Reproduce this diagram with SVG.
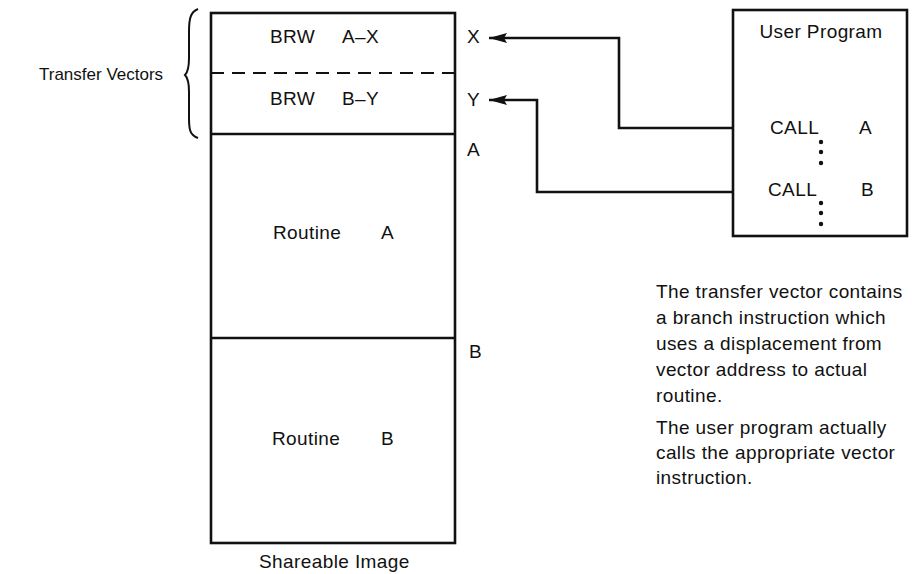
<svg xmlns="http://www.w3.org/2000/svg" width="912" height="574" viewBox="0 0 912 574">
<style>
text{font-family:"Liberation Sans",Arial,sans-serif;font-size:19px;letter-spacing:0.4px;fill:#111}
.box{fill:none;stroke:#111;stroke-width:2.6}
.ln{fill:none;stroke:#111;stroke-width:2.6}
.con{fill:none;stroke:#111;stroke-width:2.6}
</style>
<defs>
<marker id="ah" markerWidth="18" markerHeight="10" refX="18" refY="5" orient="auto" markerUnits="userSpaceOnUse">
<path d="M0,0 L18,5 L0,10 L3,5 Z" fill="#111"/>
</marker>
</defs>
<rect width="912" height="574" fill="#fff"/>
<g id="shareable-image">
<rect class="box" x="211" y="13" width="244" height="530"/>
<line x1="211" y1="73" x2="455" y2="73" stroke="#111" stroke-width="2" stroke-dasharray="13,8"/>
<line class="ln" x1="211" y1="134" x2="455" y2="134"/>
<line class="ln" x1="211" y1="338" x2="455" y2="338"/>
<text x="270" y="43">BRW</text><text x="342" y="43">A–X</text>
<text x="270" y="105">BRW</text><text x="342" y="105">B–Y</text>
<text x="273" y="239">Routine</text><text x="381" y="239">A</text>
<text x="272" y="445">Routine</text><text x="381" y="445">B</text>
<text x="259" y="568">Shareable Image</text>
</g>
<g id="transfer-vectors">
<text x="39" y="80" style="font-size:17px;letter-spacing:0">Transfer Vectors</text>
<path d="M198,9 C190,12 189,20 189,32 L189,58 C189,67 188,72 185,75 C188,78 189,83 189,92 L189,118 C189,130 190,135 198,138" fill="none" stroke="#111" stroke-width="2"/>
</g>
<g id="addresses">
<text x="467" y="43">X</text>
<text x="467" y="106">Y</text>
<text x="467" y="156">A</text>
<text x="469" y="358">B</text>
</g>
<g id="user-program">
<rect class="box" x="733" y="10" width="174" height="226"/>
<text x="821" y="38" text-anchor="middle">User Program</text>
<text x="770" y="134">CALL</text><text x="859" y="134">A</text>
<text x="768" y="196">CALL</text><text x="861" y="196">B</text>
<g fill="#111">
<circle cx="821" cy="142" r="2.2"/><circle cx="821" cy="152" r="2.2"/><circle cx="821" cy="163" r="2.2"/>
<circle cx="821" cy="203" r="2.2"/><circle cx="821" cy="213" r="2.2"/><circle cx="821" cy="224" r="2.2"/>
</g>
</g>
<g id="connectors">
<polyline class="con" points="733,128 619,128 619,38 489,38" marker-end="url(#ah)"/>
<polyline class="con" points="733,192 537,192 537,100 489,100" marker-end="url(#ah)"/>
</g>
<g id="note">
<text x="656" y="298">The transfer vector contains</text>
<text x="656" y="324">a branch instruction which</text>
<text x="656" y="350">uses a displacement from</text>
<text x="656" y="376">vector address to actual</text>
<text x="656" y="402">routine.</text>
<text x="656" y="434">The user program actually</text>
<text x="656" y="459">calls the appropriate vector</text>
<text x="656" y="484">instruction.</text>
</g>
</svg>
